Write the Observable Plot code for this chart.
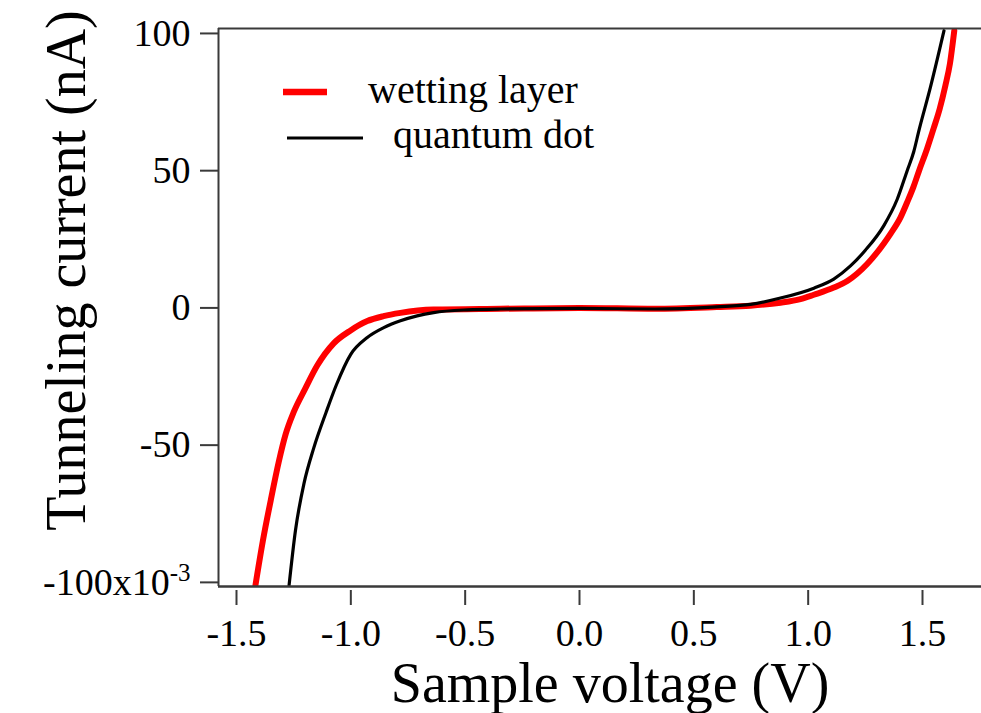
<!DOCTYPE html>
<html>
<head>
<meta charset="utf-8">
<script src="https://cdn.jsdelivr.net/npm/d3@7"></script>
<script src="https://cdn.jsdelivr.net/npm/@observablehq/plot@0.6"></script>
<style>
  html, body { margin: 0; padding: 0; background: #ffffff; }
  #wrap { position: relative; width: 981px; height: 713px; overflow: hidden; }
  #legend { position: absolute; left: 0; top: 0; pointer-events: none; }
</style>
</head>
<body>
<div id="wrap"></div>
<script>
// Wetting layer (red) — sample voltage (V) and tunneling current (nA)
const wettingVoltage = [-1.417, -1.385, -1.350, -1.315, -1.285, -1.250, -1.200, -1.147, -1.076, -1.001, -0.928, -0.857, -0.783, -0.638, -0.345, 0.0, 0.33, 0.60, 0.748, 0.879, 0.966, 1.025, 1.112, 1.171, 1.258, 1.331, 1.360, 1.404, 1.433, 1.460, 1.485, 1.520, 1.549, 1.575, 1.600, 1.620, 1.639];
const wettingCurrent = [-101, -85, -70, -56, -46, -38, -29.5, -21, -13, -8.2, -4.8, -3.0, -1.8, -0.6, -0.3, 0.0, -0.3, 0.3, 0.8, 1.9, 3.2, 4.8, 7.4, 9.8, 16, 23.5, 27, 33, 38.5, 44, 50, 58, 65.5, 72.5, 81, 89, 101];

// Quantum dot (black)
const dotVoltage = [-1.270, -1.242, -1.205, -1.162, -1.108, -1.063, -1.001, -0.928, -0.856, -0.783, -0.710, -0.638, -0.491, -0.345, 0.0, 0.33, 0.60, 0.748, 0.879, 1.025, 1.112, 1.185, 1.250, 1.331, 1.389, 1.433, 1.462, 1.484, 1.535, 1.594];
const dotCurrent = [-101, -81, -64, -51, -38, -28, -17, -10.8, -7.2, -4.7, -2.9, -1.7, -0.7, -0.4, -0.2, -0.4, 0.4, 1.3, 3.6, 7.2, 10.5, 15.3, 21, 30, 39.5, 50, 57, 64.5, 80.5, 101];

const seriesNames = ["wetting layer", "quantum dot"];
const seriesColors = ["#ff0000", "#000000"];

const xTicks = [-1.5, -1.0, -0.5, 0.0, 0.5, 1.0, 1.5];
const yTicks = [-100, -50, 0, 50, 100];

const xTitle = "Sample voltage (V)";
const yTitle = "Tunneling current (nA)";

const xDomain = [-1.5787, 1.758];
const yDomain = [-101.5, 101.8];

const wetting = wettingVoltage.map((v, k) => ({v, i: wettingCurrent[k], s: seriesNames[0]}));
const dot = dotVoltage.map((v, k) => ({v, i: dotCurrent[k], s: seriesNames[1]}));

const axisColor = "#3a3a3a";
const font = "'Liberation Serif', 'Times New Roman', serif";

const chart = Plot.plot({
  width: 981,
  height: 713,
  marginLeft: 218,
  marginRight: 0,
  marginTop: 28,
  marginBottom: 127,
  x: {domain: xDomain},
  y: {domain: yDomain},
  style: {fontFamily: font, color: "#000", background: "transparent", overflow: "visible"},
  marks: [
    Plot.line(wetting, {x: "v", y: "i", stroke: seriesColors[0], strokeWidth: 6, curve: "monotone-x", clip: true}),
    Plot.line(dot, {x: "v", y: "i", stroke: seriesColors[1], strokeWidth: 3.2, curve: "monotone-x", clip: true}),
    Plot.ruleX([xDomain[0]], {stroke: axisColor, strokeWidth: 2}),
    Plot.ruleY([yDomain[1]], {stroke: axisColor, strokeWidth: 2}),
    Plot.ruleY([yDomain[0]], {stroke: axisColor, strokeWidth: 2.5}),
    Plot.axisY({ticks: yTicks, tickSize: 18, tickPadding: 10, fontSize: 38, stroke: axisColor, strokeWidth: 2,
      tickFormat: d => d === -100 ? "-100x10|-3" : d.toFixed(0), label: null}),
    Plot.axisX({ticks: xTicks, tickSize: 15, dy: 4, tickPadding: 14, fontSize: 38, stroke: axisColor, strokeWidth: 2,
      tickFormat: d => d.toFixed(1), label: null}),
    Plot.text([yTitle], {frameAnchor: "left", dx: -151, dy: -37, rotate: -90, fontSize: 56,
      textAnchor: "middle", lineAnchor: "middle", text: d => d, fill: "#000"}),
    Plot.text([xTitle], {frameAnchor: "bottom", dx: 10, dy: 98, fontSize: 56,
      textAnchor: "middle", lineAnchor: "middle", text: d => d, fill: "#000"})
  ]
});

// superscript exponent for the bottom tick label
d3.select(chart).selectAll("text").each(function() {
  const t = d3.select(this);
  if (t.text() === "-100x10|-3") {
    t.text("-100x10");
    t.append("tspan").attr("font-size", 25).attr("dy", "-14").text("-3");
  }
});

const wrap = document.getElementById("wrap");
wrap.appendChild(chart);

// legend (inside the plot area, top-left)
const legend = d3.select(wrap).append("svg")
  .attr("id", "legend").attr("width", 981).attr("height", 200)
  .style("font-family", font);
const legendItems = [
  {name: seriesNames[0], color: seriesColors[0], width: 6.5, x1: 283, x2: 327, y: 92, tx: 368, ty: 103},
  {name: seriesNames[1], color: seriesColors[1], width: 3, x1: 287, x2: 363, y: 138, tx: 393, ty: 148}
];
legend.selectAll("line").data(legendItems).join("line")
  .attr("x1", d => d.x1).attr("x2", d => d.x2).attr("y1", d => d.y).attr("y2", d => d.y)
  .attr("stroke", d => d.color).attr("stroke-width", d => d.width);
legend.selectAll("text").data(legendItems).join("text")
  .attr("x", d => d.tx).attr("y", d => d.ty).attr("font-size", 40).attr("fill", "#000")
  .text(d => d.name);
</script>
</body>
</html>
